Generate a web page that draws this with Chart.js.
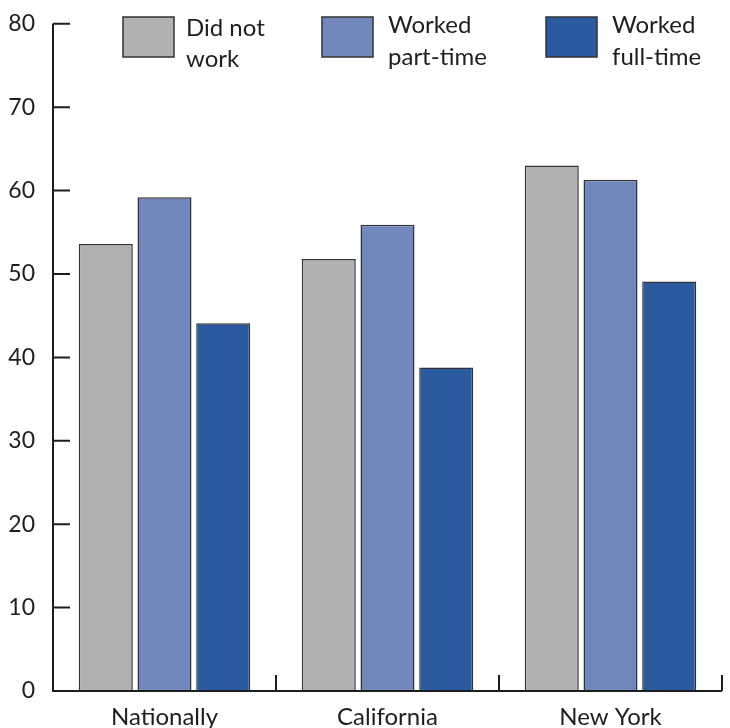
<!DOCTYPE html>
<html>
<head>
<meta charset="utf-8">
<script src="https://cdn.jsdelivr.net/npm/chart.js@4"></script>
<style>
  html, body { margin: 0; padding: 0; background: #fff; }
  #wrap { width: 730px; height: 728px; position: relative; }
</style>
</head>
<body>
<div id="wrap"><canvas id="workChart"></canvas></div>
<script>
// Data
const categories = ['Nationally', 'California', 'New York'];
const seriesNames = [['Did not', 'work'], ['Worked', 'part-time'], ['Worked', 'full-time']];
const didNotWork = [53.6, 51.8, 63.0];
const workedPartTime = [59.2, 55.9, 61.3];
const workedFullTime = [44.1, 38.8, 49.1];
const yTicks = [0, 10, 20, 30, 40, 50, 60, 70, 80];

const colors = ['#b1b1b1', '#7288bd', '#2a5b9f'];
const inkColor = '#1e1e1e';
const fontFamily = 'Lato, "Open Sans", sans-serif';

// Axes with inward tick marks, drawn through the chart's own scales
const axisPlugin = {
    id: 'inwardAxes',
    afterDatasetsDraw(chart) {
        const ctx = chart.ctx;
        const x = chart.scales.x;
        const y = chart.scales.y;
        const area = chart.chartArea;
        ctx.save();
        ctx.strokeStyle = inkColor;
        ctx.lineWidth = 2;
        ctx.beginPath();
        // y axis line
        ctx.moveTo(area.left, y.getPixelForValue(80));
        ctx.lineTo(area.left, y.getPixelForValue(0));
        // x axis line
        ctx.lineTo(area.right, y.getPixelForValue(0));
        // y ticks pointing right
        yTicks.forEach(function (v) {
            const py = y.getPixelForValue(v);
            ctx.moveTo(area.left, py);
            ctx.lineTo(area.left + 17, py);
        });
        // x ticks at category boundaries pointing up
        for (let i = 0; i < categories.length; i++) {
            const px = x.getPixelForValue(i) + (x.getPixelForValue(1) - x.getPixelForValue(0)) / 2;
            ctx.moveTo(px, y.getPixelForValue(0));
            ctx.lineTo(px, y.getPixelForValue(0) - 16);
        }
        ctx.stroke();
        ctx.restore();
    }
};

// Legend: boxes with two-line labels across the top
const legendPlugin = {
    id: 'topLegend',
    afterDraw(chart) {
        const ctx = chart.ctx;
        const boxes = [
            { x: 123, y: 17, tx: 186, b1: 36, b2: 67 },
            { x: 322, y: 17, tx: 388, b1: 33, b2: 65 },
            { x: 546, y: 17, tx: 612, b1: 33, b2: 65 }
        ];
        ctx.save();
        ctx.font = '24px ' + fontFamily;
        ctx.textBaseline = 'alphabetic';
        ctx.textAlign = 'left';
        boxes.forEach(function (b, i) {
            ctx.fillStyle = colors[i];
            ctx.fillRect(b.x, b.y, 51, 40);
            ctx.strokeStyle = '#333';
            ctx.lineWidth = 1.5;
            ctx.strokeRect(b.x, b.y, 51, 40);
            ctx.fillStyle = inkColor;
            ctx.fillText(seriesNames[i][0], b.tx, b.b1);
            ctx.fillText(seriesNames[i][1], b.tx, b.b2);
        });
        ctx.restore();
    }
};

const seriesData = [didNotWork, workedPartTime, workedFullTime];

new Chart(document.getElementById('workChart'), {
    type: 'bar',
    data: {
        labels: categories,
        datasets: seriesData.map(function (values, i) {
            return {
                label: seriesNames[i].join(' '),
                data: values,
                backgroundColor: colors[i],
                borderColor: '#333',
                borderWidth: 1.5,
                barPercentage: 0.92,
                categoryPercentage: 0.79
            };
        })
    },
    options: {
        responsive: true,
        maintainAspectRatio: false,
        animation: false,
        layout: {
            padding: { top: 18, right: 8, left: 0, bottom: 0 }
        },
        plugins: {
            legend: { display: false },
            tooltip: { enabled: false }
        },
        scales: {
            x: {
                grid: { display: false },
                border: { display: false },
                ticks: {
                    color: inkColor,
                    font: { family: fontFamily, size: 24 },
                    padding: 4
                },
                afterFit: function (scale) { scale.height = 37; }
            },
            y: {
                min: 0,
                max: 80,
                grid: { display: false },
                border: { display: false },
                afterBuildTicks: function (scale) {
                    scale.ticks = yTicks.map(function (v) { return { value: v }; });
                },
                ticks: {
                    color: inkColor,
                    font: { family: fontFamily, size: 23 },
                    padding: 10
                },
                afterFit: function (scale) { scale.width = 53; }
            }
        }
    },
    plugins: [axisPlugin, legendPlugin]
});
</script>
</body>
</html>
